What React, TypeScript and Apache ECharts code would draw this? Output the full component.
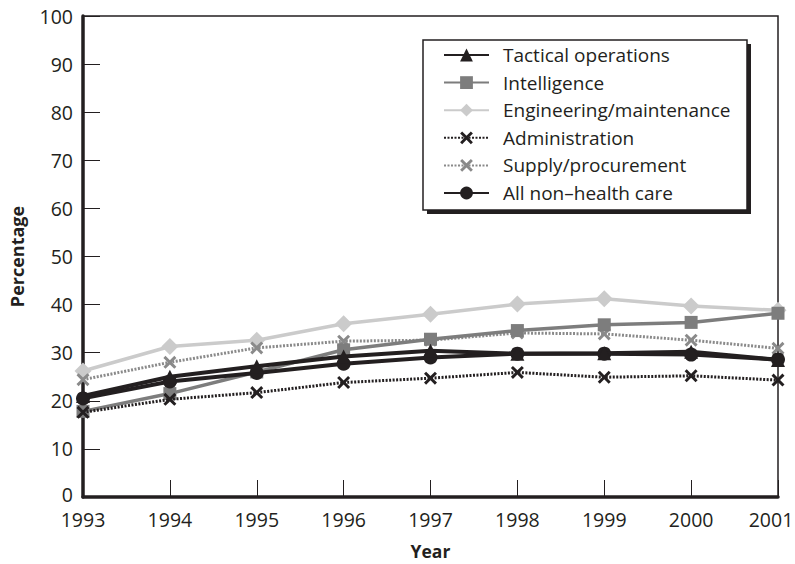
import React, { useEffect, useRef } from "react";
import * as echarts from "echarts";

const years = ["1993", "1994", "1995", "1996", "1997", "1998", "1999", "2000", "2001"];
const tactical = [21, 25, 27.2, 29.2, 30.4, 29.8, 29.9, 30.2, 28.5];
const intelligence = [17.8, 21.5, 26, 30.6, 32.8, 34.6, 35.8, 36.3, 38.2];
const engineering = [26.2, 31.3, 32.6, 36, 38, 40.1, 41.2, 39.7, 38.8];
const administration = [17.6, 20.3, 21.7, 23.8, 24.7, 25.9, 24.9, 25.2, 24.3];
const supply = [24.4, 28, 31, 32.4, 32.6, 34.1, 33.9, 32.6, 30.9];
const allNonHealth = [20.5, 24, 25.8, 27.7, 29, 29.8, 29.8, 29.6, 28.6];

const xSym = "path://M0,1.6 L1.6,0 L5,3.4 L8.4,0 L10,1.6 L6.6,5 L10,8.4 L8.4,10 L5,6.6 L1.6,10 L0,8.4 L3.4,5 Z";

const FONT = "'Open Sans', sans-serif";
const INK = "#231f20";

export default function App() {
  const ref = useRef<HTMLDivElement>(null);
  useEffect(() => {
    if (!ref.current) return;
    const chart = echarts.init(ref.current, undefined, { renderer: "svg" });
    const mk = (name: string, data: number[], color: string, symbol: string, size: number, width: number, dotted: boolean, z: number) => ({
      name,
      type: "line",
      data,
      symbol,
      symbolSize: size,
      showAllSymbol: true,
      z,
      itemStyle: { color },
      lineStyle: { color, width, type: dotted ? [2, 1.5] : "solid" },
      emphasis: { disabled: true },
    });
    const lastYear = years[years.length - 1];
    chart.setOption({
      animation: false,
      textStyle: { fontFamily: FONT },
      grid: {
        left: 83,
        top: 16,
        right: 17,
        bottom: 67,
        outerBoundsMode: "none",
        containLabel: false,
        show: true,
        borderColor: INK,
        borderWidth: 1.5,
        backgroundColor: "transparent",
      },
      graphic: [
        { type: "rect", shape: { x: 427, y: 44, width: 324, height: 170 }, style: { fill: INK }, z: 10 },
        { type: "rect", shape: { x: 423, y: 40, width: 324, height: 170 }, style: { fill: "#fff", stroke: INK, lineWidth: 1.5 }, z: 11 },
      ],
      legend: {
        orient: "vertical",
        left: 443,
        top: 45,
        padding: 0,
        itemWidth: 45,
        itemHeight: 16,
        itemGap: 7.6,
        z: 20,
        textStyle: { fontSize: 19, color: INK, fontFamily: FONT, lineHeight: 20, padding: [0, 0, 0, 9] },
        data: [
          "Tactical operations",
          "Intelligence",
          "Engineering/maintenance",
          "Administration",
          "Supply/procurement",
          "All non\u2013health care",
        ],
      },
      xAxis: {
        type: "category",
        data: years,
        boundaryGap: false,
        name: "Year",
        nameLocation: "middle",
        nameGap: 45,
        nameTextStyle: { fontSize: 17.5, fontWeight: "bold", color: INK, fontFamily: FONT },
        axisLine: { lineStyle: { color: INK, width: 3.5 } },
        axisTick: { inside: true, interval: 0, length: 17, lineStyle: { color: INK, width: 1 } },
        axisLabel: {
          interval: 0,
          hideOverlap: false,
          fontSize: 19.5,
          color: INK,
          margin: 13,
          lineHeight: 18,
          fontFamily: FONT,
          formatter: (v: string) => (v === lastYear ? "{last|" + v + "}" : v),
          rich: {
            last: { fontSize: 19.5, color: INK, fontFamily: FONT, lineHeight: 18, padding: [0, 14, 0, 0] },
          },
        },
        splitLine: { show: false },
      },
      yAxis: {
        type: "value",
        min: 0,
        max: 100,
        interval: 10,
        name: "Percentage",
        nameLocation: "middle",
        nameGap: 57,
        nameTextStyle: { fontSize: 18, fontWeight: "bold", color: INK, fontFamily: FONT },
        axisLine: { show: true, lineStyle: { color: INK, width: 3.5 } },
        axisTick: { show: true, inside: true, length: 17, lineStyle: { color: INK, width: 1 } },
        axisLabel: {
          fontSize: 19.5,
          color: INK,
          margin: 10,
          lineHeight: 16,
          fontFamily: FONT,
          formatter: (v: number) => (v === 0 ? "{zero|0}" : String(v)),
          rich: {
            zero: { fontSize: 19.5, color: INK, fontFamily: FONT, lineHeight: 14, padding: [0, 0, 6, 0] },
          },
        },
        splitLine: { show: false },
      },
      series: [
        mk("Engineering/maintenance", engineering, "#cbcbcb", "diamond", 17, 3.5, false, 2),
        mk("Supply/procurement", supply, "#8a8a8a", xSym, 13, 3, true, 3),
        mk("Intelligence", intelligence, "#7d7d7d", "rect", 13, 3.5, false, 4),
        mk("Administration", administration, INK, xSym, 13, 3, true, 5),
        mk("All non\u2013health care", allNonHealth, INK, "circle", 14, 4, false, 6),
        mk("Tactical operations", tactical, INK, "triangle", 14, 4, false, 7),
      ],
    });
    return () => chart.dispose();
  }, []);
  return <div ref={ref} style={{ width: 795, height: 564, position: "absolute", left: 0, top: 0 }} />;
}
